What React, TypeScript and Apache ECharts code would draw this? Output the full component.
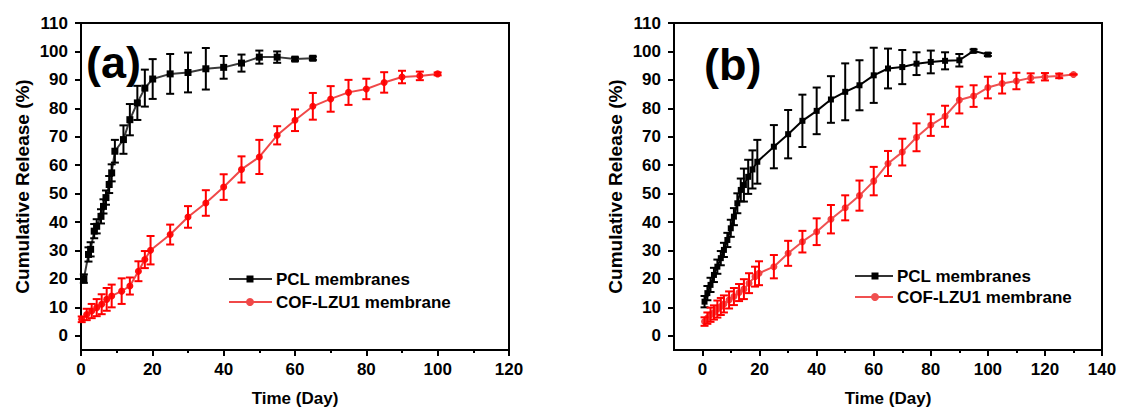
import React, { useEffect, useRef } from 'react';
import * as echarts from 'echarts';

// ---------- Data: panel (a) ----------
const aPclDays = [0.8, 2.1, 2.7, 3.7, 4.4, 5.6, 6.3, 7.0, 7.9, 8.6, 9.5, 11.9, 13.7, 15.8, 17.9, 20.1, 25, 30, 35, 40, 45, 50, 55, 60, 65];
const aPclVals = [20.1, 28.6, 30.4, 36.8, 38.5, 42, 45.5, 48.6, 53.2, 57.3, 64.9, 69, 76, 81.9, 87.1, 90.3, 92.1, 92.6, 93.9, 94.4, 95.9, 98, 98, 97.3, 97.6];
const aPclErr = [1.5, 2.5, 2.5, 2.5, 2.5, 2.5, 2.5, 2.5, 3, 3, 4, 5, 5.5, 6, 6.5, 7, 7, 7, 7.3, 4, 3, 2.3, 2, 0.6, 0.6];

const aCofDays = [0.2, 1.6, 3, 4.4, 5.8, 7.2, 8.6, 11.4, 13.7, 16.1, 17.9, 19.5, 25, 30, 35, 40, 45, 50, 55, 60, 65, 70, 75, 80, 85, 90, 95, 100];
const aCofVals = [5.8, 7.5, 8.7, 9.9, 11.1, 12.8, 14, 15.7, 17.5, 22.7, 26.8, 30.1, 35.6, 41.8, 46.7, 52.3, 58.5, 62.9, 70.5, 75.8, 80.7, 83.3, 85.6, 86.8, 89.1, 91, 91.4, 92.1];
const aCofErr = [1, 2, 2.5, 3, 3.5, 4, 4, 4.5, 3, 3.5, 3, 5, 3.5, 3.8, 4.5, 4.5, 4.6, 6, 3.2, 3.8, 4.7, 4.5, 4.4, 3.6, 3.6, 2.2, 1.5, 0.5];

// ---------- Data: panel (b) ----------
const bPclDays = [0.7, 1.7, 2.8, 4.0, 5.2, 6.4, 7.5, 8.7, 9.9, 11.0, 12.2, 13.4, 14.5, 16.0, 17.5, 19.2, 25, 30, 35, 40, 45, 50, 55, 60, 65, 70, 75, 80, 85, 90, 95, 100];
const bPclVals = [12, 15, 17.9, 21.4, 24.3, 27.3, 30.2, 33.7, 37.8, 41.9, 46.6, 51.3, 53, 55.9, 58.5, 61.2, 66.5, 70.9, 75.6, 79.1, 83.1, 85.8, 88.1, 91.6, 94, 94.5, 95.7, 96.3, 96.7, 96.9, 100.2, 98.9];
const bPclErr = [2, 2.5, 2.5, 2.5, 2.5, 2.5, 2.5, 2.5, 3, 3, 3.5, 4, 5.8, 6, 6.7, 7.7, 7.6, 8.5, 9.2, 8.2, 8.2, 10, 8.8, 9.7, 7, 6, 4, 4, 3, 2.2, 0.5, 0.5];

const bCofDays = [0.7, 1.7, 2.8, 4.0, 5.2, 6.4, 7.5, 9.3, 11.0, 12.8, 14.5, 16.3, 18.4, 19.8, 25, 30, 35, 40, 45, 50, 55, 60, 65, 70, 75, 80, 85, 90, 95, 100, 105, 110, 115, 120, 125, 130];
const bCofVals = [5, 6.2, 7.4, 8.2, 9.4, 10.3, 11.2, 12.6, 13.8, 15.2, 16.4, 18.5, 20.8, 22, 24.3, 29, 33.1, 36.6, 41, 45, 49.3, 54.4, 60.6, 64.6, 69.8, 74.1, 77.2, 82.9, 84.3, 87.3, 88.7, 89.6, 90.7, 91.1, 91.4, 91.9];
const bCofErr = [1.5, 2, 2.5, 2.5, 3, 3, 3, 3, 3, 3, 3.5, 3.5, 3.5, 4.2, 4.1, 4.4, 3.8, 4.7, 5, 4.4, 5.3, 5, 4.4, 4.7, 4.9, 3.8, 3.7, 4.7, 3.8, 3.8, 3.5, 2.9, 1.6, 1.3, 0.8, 0];

// ---------- Axis ticks / labels ----------
const yTicks = [0, 10, 20, 30, 40, 50, 60, 70, 80, 90, 100, 110];
const aXMajor = [0, 20, 40, 60, 80, 100, 120];
const aXMinor = [10, 30, 50, 70, 90, 110];
const bXMajor = [0, 20, 40, 60, 80, 100, 120, 140];
const bXMinor = [10, 30, 50, 70, 90, 110, 130];

const seriesNames = ['PCL membranes', 'COF-LZU1 membrane'];
const panelLabels = ['(a)', '(b)'];
const xTitle = 'Time (Day)';
const yTitle = 'Cumulative Release (%)';

const FONT = '"Liberation Sans", Arial, sans-serif';

const pts = (d: number[], v: number[]) => d.map((x, i) => [x, v[i]]);
const errPts = (d: number[], v: number[], e: number[]) => d.map((x, i) => [x, v[i], e[i]]);

const errRender = (color: string) => (params: any, api: any) => {
  const x = api.value(0);
  const y = api.value(1);
  const e = api.value(2);
  const top = api.coord([x, y + e]);
  const bot = api.coord([x, y - e]);
  const hw = 4;
  const style = { stroke: color, lineWidth: 2 };
  return {
    type: 'group',
    children: [
      { type: 'line', shape: { x1: top[0], y1: top[1], x2: bot[0], y2: bot[1] }, style },
      { type: 'line', shape: { x1: top[0] - hw, y1: top[1], x2: top[0] + hw, y2: top[1] }, style },
      { type: 'line', shape: { x1: bot[0] - hw, y1: bot[1], x2: bot[0] + hw, y2: bot[1] }, style },
    ],
  };
};

const labelStyle = { color: '#000', fontFamily: FONT, fontWeight: 'bold' as const, fontSize: 17 };

function xAxes(grid: number, min: number, max: number, major: number[], minor: number[]) {
  return [
    {
      type: 'value', gridIndex: grid, min, max, interval: 10, position: 'bottom',
      axisLine: { show: true, onZero: false, lineStyle: { color: '#000', width: 2 } },
      axisTick: { show: true, inside: false, length: 6, customValues: major, lineStyle: { color: '#000', width: 2 } },
      axisLabel: { ...labelStyle, margin: 11, customValues: major },
      splitLine: { show: false },
      name: xTitle, nameLocation: 'middle', nameGap: 40,
      nameTextStyle: { ...labelStyle },
    },
    {
      type: 'value', gridIndex: grid, min, max, interval: 10, position: 'bottom', offset: 0,
      axisLine: { show: false, onZero: false },
      axisTick: { show: true, inside: false, length: 3, customValues: minor, lineStyle: { color: '#000', width: 2 } },
      axisLabel: { show: false },
      splitLine: { show: false },
    },
  ];
}

function yAxis(grid: number) {
  return {
    type: 'value', gridIndex: grid, min: -5, max: 110, interval: 5,
    axisLine: { show: true, onZero: false, lineStyle: { color: '#000', width: 2 } },
    axisTick: { show: true, inside: false, length: 6, customValues: yTicks, lineStyle: { color: '#000', width: 2 } },
    axisLabel: { ...labelStyle, margin: 13, customValues: yTicks },
    splitLine: { show: false },
    name: yTitle, nameLocation: 'middle', nameGap: 49, nameRotate: 90,
    nameTextStyle: { ...labelStyle, fontSize: 19 },
  };
}

function legendGroup(x0: number, lineLen: number, y1: number, y2: number, markerX: number, redLine: string) {
  return [
    { type: 'line', shape: { x1: x0, y1, x2: x0 + lineLen, y2: y1 }, style: { stroke: '#333', lineWidth: 2 } },
    { type: 'rect', shape: { x: markerX - 3.5, y: y1 - 3.5, width: 7, height: 7 }, style: { fill: '#000' } },
    { type: 'text', x: x0 + lineLen + 4, y: y1, style: { text: seriesNames[0], fill: '#000', font: `bold 17px ${FONT}`, verticalAlign: 'middle' } },
    { type: 'line', shape: { x1: x0, y1: y2, x2: x0 + lineLen, y2 }, style: { stroke: redLine, lineWidth: 2 } },
    { type: 'circle', shape: { cx: markerX, cy: y2, r: 4 }, style: { fill: redLine } },
    { type: 'text', x: x0 + lineLen + 4, y: y2, style: { text: seriesNames[1], fill: '#000', font: `bold 17px ${FONT}`, verticalAlign: 'middle' } },
  ];
}

export default function App() {
  const ref = useRef<HTMLDivElement>(null);
  useEffect(() => {
    if (!ref.current) return;
    const chart = echarts.init(ref.current, undefined, { renderer: 'svg' });
    const gridCommon = { top: 23, height: 328, width: 428, show: true, borderColor: '#000', borderWidth: 2, backgroundColor: 'transparent' };
    const option: any = {
      animation: false,
      backgroundColor: '#fff',
      grid: [
        { ...gridCommon, left: 81 },
        { ...gridCommon, left: 674 },
      ],
      xAxis: [
        ...xAxes(0, 0, 120, aXMajor, aXMinor),
        ...xAxes(1, -10, 140, bXMajor, bXMinor),
      ],
      yAxis: [yAxis(0), yAxis(1)],
      series: [
        {
          name: seriesNames[0], type: 'line', xAxisIndex: 0, yAxisIndex: 0,
          data: pts(aPclDays, aPclVals), symbol: 'rect', symbolSize: 7,
          itemStyle: { color: '#000' }, lineStyle: { color: '#3a3a3a', width: 2 }, z: 3,
        },
        {
          name: seriesNames[1], type: 'line', xAxisIndex: 0, yAxisIndex: 0,
          data: pts(aCofDays, aCofVals), symbol: 'circle', symbolSize: 7,
          itemStyle: { color: '#ff1010' }, lineStyle: { color: '#f04848', width: 2 }, z: 3,
        },
        {
          type: 'custom', xAxisIndex: 0, yAxisIndex: 0, renderItem: errRender('#000'),
          data: errPts(aPclDays, aPclVals, aPclErr), encode: { x: 0, y: 1 }, z: 4,
        },
        {
          type: 'custom', xAxisIndex: 0, yAxisIndex: 0, renderItem: errRender('#ff0000'),
          data: errPts(aCofDays, aCofVals, aCofErr), encode: { x: 0, y: 1 }, z: 4,
        },
        {
          name: seriesNames[0], type: 'line', xAxisIndex: 2, yAxisIndex: 1,
          data: pts(bPclDays, bPclVals), symbol: 'rect', symbolSize: 6,
          itemStyle: { color: '#000' }, lineStyle: { color: '#000', width: 2 }, z: 3,
        },
        {
          name: seriesNames[1], type: 'line', xAxisIndex: 2, yAxisIndex: 1,
          data: pts(bCofDays, bCofVals), symbol: 'circle', symbolSize: 7,
          itemStyle: { color: '#f04444' }, lineStyle: { color: '#f05050', width: 2 }, z: 3,
        },
        {
          type: 'custom', xAxisIndex: 2, yAxisIndex: 1, renderItem: errRender('#000'),
          data: errPts(bPclDays, bPclVals, bPclErr), encode: { x: 0, y: 1 }, z: 4,
        },
        {
          type: 'custom', xAxisIndex: 2, yAxisIndex: 1, renderItem: errRender('#ff0000'),
          data: errPts(bCofDays, bCofVals, bCofErr), encode: { x: 0, y: 1 }, z: 4,
        },
      ],
      graphic: [
        { type: 'text', x: 86, y: 62, style: { text: panelLabels[0], fill: '#000', font: `bold 45px ${FONT}`, verticalAlign: 'middle' }, z: 10 },
        { type: 'text', x: 704, y: 64, style: { text: panelLabels[1], fill: '#000', font: `bold 45px ${FONT}`, verticalAlign: 'middle' }, z: 10 },
        ...legendGroup(229, 43, 279, 302, 250, '#f04848'),
        ...legendGroup(855, 38, 276, 297, 875, '#f05050'),
      ],
    };
    chart.setOption(option);
    return () => chart.dispose();
  }, []);
  return <div ref={ref} style={{ position: 'fixed', left: 0, top: 0, width: 1123, height: 412, background: '#fff' }} />;
}
